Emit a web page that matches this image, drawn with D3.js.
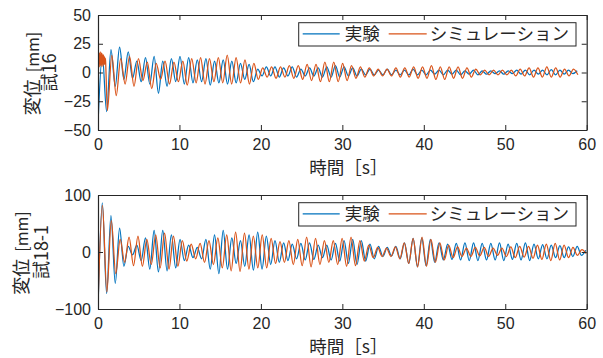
<!DOCTYPE html>
<html>
<head>
<meta charset="utf-8">
<script src="https://cdn.jsdelivr.net/npm/d3@7"></script>
<style>
  body { margin: 0; background: #fff; }
  svg text { font-family: "Noto Sans CJK JP", "Noto Sans", sans-serif; fill: #262626; }
</style>
</head>
<body>
<svg id="chart" width="603" height="358"></svg>
<script>
// tick labels and category text
const xTicks = [0, 10, 20, 30, 40, 50, 60];
const topYTicks = [-50, -25, 0, 25, 50];
const bottomYTicks = [-100, 0, 100];
const legendLabels = ["実験", "シミュレーション"];
const xLabel = "時間［s］";
const yLabelMain = "変位";
const yLabelUnit = "[mm]";
const trialLabels = ["試16", "試18-1"];

// 試16 – experiment, peaks/troughs sampled every 0.53 s from t = 0
const exp16Step = 0.53;
const exp16 = [-45, 15, -34, 20, -12, 22, -6, 18, -5, 10, -8, 13, -10, 14, -18, 10, -12, 12, -8, 14,
  -10, 13, -9, 11, -8, 12, -11, 10, -9, 11, -10, 10, -9, 8, -6, 7, -8, 3, -3, 5,
  -3, 5, -4, 4, -3, 5, -4, 3, -3, 4, -3, 4, -4, 5, -4, 6, -4, 5, -3, 4,
  -3, 3, -2, 3, -2, 2, -2, 3, -2, 2, -2, 2, -2, 3, -2, 2, -2, 2, -1.5, 2,
  -2, 2, -1.5, 2, -2, 1.5, -1.5, 2, -2, 1.5, -1.5, 1.5, -1, 1.5, -1.5, 1.5, -1, 2, -1.5, 2,
  -2, 2, -1.5, 2, -2, 2.5, -2, 2, -1.5, 2, -1, 1.5];

// 試16 – simulation: fast ripple at the start (every 0.04 s), then peaks every 0.545 s from t = 1.15
const sim16HeadStep = 0.04;
const sim16Head = [-48, 18, 8, 17, 5, 16, 9, 18, 6, 15, 7, 17, 5, 14, 8, 16, 6, 15, 9, 14, 7, 13, 8, 12, 5];
const sim16Start = 1.15;
const sim16Step = 0.545;
const sim16 = [-33, 15, -20, 12, -10, 14, -12, 12, -7, 9, -14, 8, -6, 10, -10, 9, -8, 10, -11, 12,
  -9, 13, -10, 12, -8, 13, -9, 15, -10, 13, -9, 11, -10, 8, -6, 4, -4, 5, -5, 5,
  -4, 6, -5, 6, -6, 7, -7, 7, -8, 9, -8, 9, -8, 8, -7, 6, -5, 5, -4, 4,
  -3, 3, -3, 3, -3, 4, -4, 4, -4, 5, -5, 5, -5, 6, -6, 5, -6, 5, -5, 5,
  -5, 4, -4, 3, -2, 2, -2, 2, -2, 2, -2, 2, -3, 3, -3, 4, -4, 4, -4, 5,
  -4, 4, -4, 3, -3, 3, -2];

// 試18-1 – experiment, every 0.53 s from t = 0
const exp18Step = 0.53;
const exp18 = [-100, 86, -73, 64, -55, 42, -25, 10, -5, 12, -15, 25, -30, 38, -35, 38, -33, 30, -28, 22,
  -15, 12, -10, 8, -12, 22, -30, 30, -38, 38, -30, 25, -20, 20, -25, 30, -32, 35, -30, 28,
  -22, 20, -18, 16, -15, 14, -12, 15, -14, 16, -13, 12, -10, 12, -14, 15, -16, 20, -20, 22,
  -22, 20, -16, 14, -12, 10, -8, 8, -7, 10, -12, 16, -20, 24, -26, 25, -24, 22, -18, 16,
  -14, 14, -13, 15, -14, 16, -15, 16, -15, 15, -14, 15, -14, 16, -15, 14, -13, 15, -14, 16,
  -15, 14, -12, 13, -12, 12, -10, 11, -10, 9, -8, 10, -6, 3];

// 試18-1 – simulation, every 0.545 s from t = 0
const sim18Step = 0.545;
const sim18 = [-95, 82, -70, 55, -38, 22, -18, 26, -24, 28, -25, 22, -22, 30, -28, 33, -30, 28, -25, 20,
  -16, 14, -12, 15, -18, 20, -22, 25, -28, 30, -33, 35, -34, 33, -30, 28, -28, 30, -28, 24,
  -20, 18, -18, 20, -22, 22, -24, 26, -26, 24, -22, 20, -18, 20, -22, 24, -25, 26, -24, 20,
  -16, 12, -10, 8, -8, 7, -8, 9, -12, 16, -20, 24, -26, 26, -25, 22, -18, 16, -14, 12,
  -10, 9, -8, 7, -8, 8, -7, 8, -8, 7, -6, 7, -8, 9, -10, 10, -9, 10, -11, 12,
  -13, 14, -15, 15, -14, 12, -10, 8, -6, 4, -3];

const expColor = "#0072BD";
const simColor = "#D95319";
const ink = "#262626";

const toPoints = (vals, start, step) => vals.map((v, i) => [start + i * step, v]);

const panels = [
  {
    top: 15, bottom: 130, yDomain: [-50, 50], yTicks: topYTicks, trial: trialLabels[0], labelX: [32.5, 50],
    series: [
      { color: expColor, pts: toPoints(exp16, 0, exp16Step) },
      { color: simColor, pts: toPoints(sim16Head, 0, sim16HeadStep).concat(toPoints(sim16, sim16Start, sim16Step)) }
    ]
  },
  {
    top: 195, bottom: 309, yDomain: [-100, 100], yTicks: bottomYTicks, trial: trialLabels[1], labelX: [21.5, 41.5],
    series: [
      { color: expColor, pts: toPoints(exp18, 0, exp18Step) },
      { color: simColor, pts: toPoints(sim18, 0, sim18Step) }
    ]
  }
];

const left = 98, right = 586.7;
const svg = d3.select("#chart");
const fmt = d => d < 0 ? "\u2212" + Math.abs(d) : String(d);

panels.forEach((p, k) => {
  const x = d3.scaleLinear().domain([0, 60]).range([left, right]);
  const y = d3.scaleLinear().domain(p.yDomain).range([p.bottom, p.top]);
  const g = svg.append("g");

  const clipId = "clip" + k;
  g.append("clipPath").attr("id", clipId)
    .append("rect").attr("x", left).attr("y", p.top)
    .attr("width", right - left).attr("height", p.bottom - p.top);

  const line = d3.line().x(d => x(d[0])).y(d => y(d[1])).curve(d3.curveMonotoneX);
  p.series.forEach(s => {
    g.append("path")
      .attr("clip-path", `url(#${clipId})`)
      .attr("d", line(s.pts))
      .attr("fill", "none")
      .attr("stroke", s.color)
      .attr("stroke-width", 1.25);
  });

  // axes: ticks inside on all four sides
  const styleAxis = sel => {
    sel.selectAll("path, line").attr("stroke", ink);
    sel.selectAll("text").attr("fill", ink).style("font-size", "16px")
      .style("font-family", '"Liberation Sans", Arial, sans-serif');
  };
  g.append("g").attr("transform", `translate(0,${p.bottom})`)
    .call(d3.axisBottom(x).tickValues(xTicks).tickSize(-5).tickSizeOuter(0).tickPadding(8.5))
    .call(styleAxis);
  g.append("g").attr("transform", `translate(0,${p.top})`)
    .call(d3.axisTop(x).tickValues(xTicks).tickSize(-5).tickSizeOuter(0).tickFormat(""))
    .call(styleAxis);
  g.append("g").attr("transform", `translate(${left},0)`)
    .call(d3.axisLeft(y).tickValues(p.yTicks).tickSize(-5).tickSizeOuter(0).tickPadding(7).tickFormat(fmt))
    .call(styleAxis);
  g.append("g").attr("transform", `translate(${right},0)`)
    .call(d3.axisRight(y).tickValues(p.yTicks).tickSize(-5).tickSizeOuter(0).tickFormat(""))
    .call(styleAxis);
  g.selectAll(".domain").attr("stroke-width", 1.2);

  // x label
  g.append("text")
    .attr("x", (left + right) / 2 + 6)
    .attr("y", p.bottom + 37.5)
    .attr("dy", "0.35em")
    .attr("text-anchor", "middle")
    .style("font-size", "17.5px")
    .text(xLabel);

  // y label, two lines
  const cy = (p.top + p.bottom) / 2;
  const yl = g.append("text")
    .attr("transform", `translate(${p.labelX[0]},${cy + 1}) rotate(-90)`)
    .attr("dy", "0.35em")
    .attr("text-anchor", "middle")
    .style("font-size", "18px");
  yl.append("tspan").text(yLabelMain);
  yl.append("tspan").attr("dx", 7).style("font-size", "16px").text(yLabelUnit);
  g.append("text")
    .attr("transform", `translate(${p.labelX[1]},${cy}) rotate(-90)`)
    .attr("dy", "0.35em")
    .attr("text-anchor", "middle")
    .style("font-size", "18px")
    .text(p.trial);

  // legend
  const lx = right - 288, ly = p.top + 7.7, lw = 277.3, lh = 23.3;
  const lg = g.append("g");
  lg.append("rect").attr("x", lx).attr("y", ly).attr("width", lw).attr("height", lh)
    .attr("fill", "#fff").attr("stroke", ink).attr("stroke-width", 1);
  const items = [
    { label: legendLabels[0], color: expColor, x0: lx + 4, x1: lx + 41, tx: lx + 46 },
    { label: legendLabels[1], color: simColor, x0: lx + 90, x1: lx + 128, tx: lx + 131 }
  ];
  items.forEach(it => {
    lg.append("line").attr("x1", it.x0).attr("x2", it.x1)
      .attr("y1", ly + lh / 2 - 0.5).attr("y2", ly + lh / 2 - 0.5)
      .attr("stroke", it.color).attr("stroke-width", 1.1);
    lg.append("text").attr("x", it.tx).attr("y", ly + lh / 2)
      .attr("dy", "0.35em").style("font-size", "17.5px").text(it.label);
  });
});
</script>
</body>
</html>
